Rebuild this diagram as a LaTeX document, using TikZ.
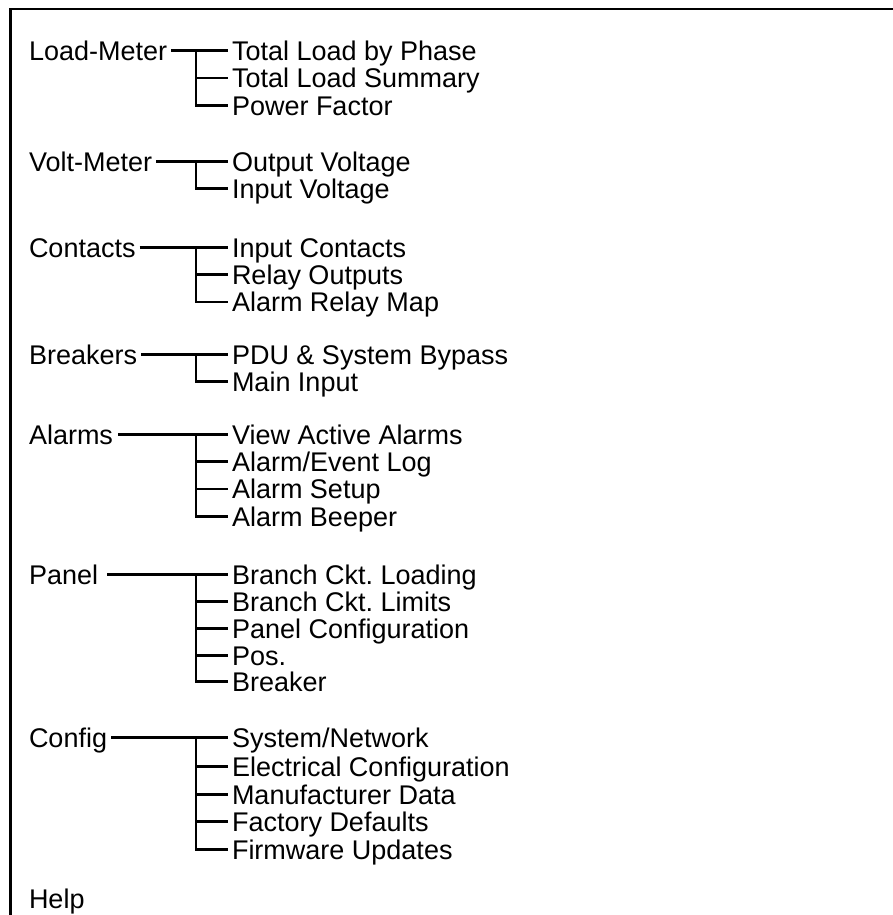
\documentclass[tikz,border=0pt]{standalone}
\usepackage{fontspec}
\setmainfont{Liberation Sans}
\frenchspacing
\begin{document}
\begin{tikzpicture}[x=1pt,y=-1pt,
  lbl/.style={anchor=west,inner sep=0pt,outer sep=0pt,text height=19.4pt,text depth=0pt,
    font=\fontsize{27}{30}\selectfont},
  parent/.style={lbl},
  child/.style={lbl},
  conn/.style={line width=2.3pt},
  frame/.style={line width=2.6pt}]
\useasboundingbox (0,0) rectangle (893,915);
\draw[frame] (10.5,930) -- (10.5,9) -- (910,9);
% Load-Meter
\node[parent] (lm) at (29,50.5) {Load-Meter};
\node[child] (lm1) at (232,50.5) {Total Load by Phase};
\node[child] (lm2) at (232,78) {Total Load Summary};
\node[child] (lm3) at (232,105.5) {Power Factor};
\draw[conn] ([xshift=4]lm.east) -- ([xshift=-4]lm1.west);
\draw[conn] ([xshift=-36]lm1.west) |- ([xshift=-4]lm3.west);
\draw[conn] ([xshift=-36]lm2.west) -- ([xshift=-4]lm2.west);
% Volt-Meter
\node[parent] (vm) at (29,161.5) {Volt-Meter};
\node[child] (vm1) at (232,161.5) {Output Voltage};
\node[child] (vm2) at (232,188.5) {Input Voltage};
\draw[conn] ([xshift=4]vm.east) -- ([xshift=-4]vm1.west);
\draw[conn] ([xshift=-36]vm1.west) |- ([xshift=-4]vm2.west);
% Contacts
\node[parent] (ct) at (29,247.5) {Contacts};
\node[child] (ct1) at (232,247.5) {Input Contacts};
\node[child] (ct2) at (232,274.5) {Relay Outputs};
\node[child] (ct3) at (232,302) {Alarm Relay Map};
\draw[conn] ([xshift=4]ct.east) -- ([xshift=-4]ct1.west);
\draw[conn] ([xshift=-36]ct1.west) |- ([xshift=-4]ct3.west);
\draw[conn] ([xshift=-36]ct2.west) -- ([xshift=-4]ct2.west);
% Breakers
\node[parent] (br) at (29,354.5) {Breakers};
\node[child] (br1) at (232,354.5) {PDU \& System Bypass};
\node[child] (br2) at (232,381.5) {Main Input};
\draw[conn] ([xshift=4]br.east) -- ([xshift=-4]br1.west);
\draw[conn] ([xshift=-36]br1.west) |- ([xshift=-4]br2.west);
% Alarms
\node[parent] (al) at (29,434.5) {Alarms};
\node[child] (al1) at (232,434.5) {View Active Alarms};
\node[child] (al2) at (232,461.5) {Alarm/Event Log};
\node[child] (al3) at (232,489) {Alarm Setup};
\node[child] (al4) at (232,516.5) {Alarm Beeper};
\draw[conn] ([xshift=5]al.east) -- ([xshift=-4]al1.west);
\draw[conn] ([xshift=-36]al1.west) |- ([xshift=-4]al4.west);
\draw[conn] ([xshift=-36]al2.west) -- ([xshift=-4]al2.west);
\draw[conn] ([xshift=-36]al3.west) -- ([xshift=-4]al3.west);
% Panel
\node[parent] (pn) at (29,574.5) {Panel};
\node[child] (pn1) at (232,574.5) {Branch Ckt. Loading};
\node[child] (pn2) at (232,601.5) {Branch Ckt. Limits};
\node[child] (pn3) at (232,628.5) {Panel Configuration};
\node[child] (pn4) at (232,655.5) {Pos.};
\node[child] (pn5) at (232,681.5) {Breaker};
\draw[conn] ([xshift=9]pn.east) -- ([xshift=-4]pn1.west);
\draw[conn] ([xshift=-36]pn1.west) |- ([xshift=-4]pn5.west);
\draw[conn] ([xshift=-36]pn2.west) -- ([xshift=-4]pn2.west);
\draw[conn] ([xshift=-36]pn3.west) -- ([xshift=-4]pn3.west);
\draw[conn] ([xshift=-36]pn4.west) -- ([xshift=-4]pn4.west);
% Config
\node[parent] (cf) at (29,737.5) {Config};
\node[child] (cf1) at (232,737.5) {System/Network};
\node[child] (cf2) at (232,766.5) {Electrical Configuration};
\node[child] (cf3) at (232,794.5) {Manufacturer Data};
\node[child] (cf4) at (232,821.5) {Factory Defaults};
\node[child] (cf5) at (232,849.5) {Firmware Updates};
\draw[conn] ([xshift=4]cf.east) -- ([xshift=-4]cf1.west);
\draw[conn] ([xshift=-36]cf1.west) |- ([xshift=-4]cf5.west);
\draw[conn] ([xshift=-36]cf2.west) -- ([xshift=-4]cf2.west);
\draw[conn] ([xshift=-36]cf3.west) -- ([xshift=-4]cf3.west);
\draw[conn] ([xshift=-36]cf4.west) -- ([xshift=-4]cf4.west);
% Help
\node[parent] (hp) at (29,899) {Help};
\end{tikzpicture}
\end{document}
